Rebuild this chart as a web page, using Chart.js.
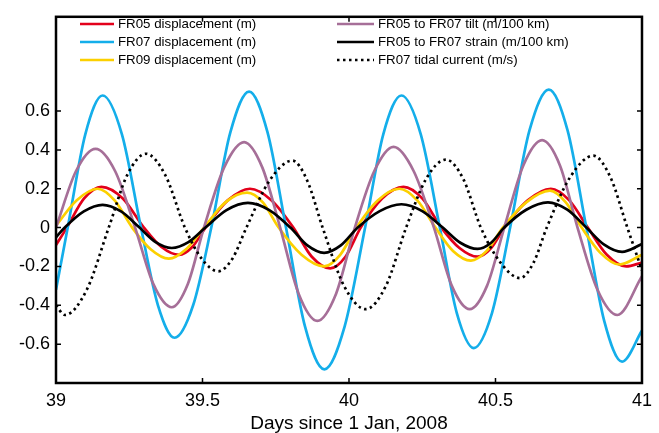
<!DOCTYPE html>
<html>
<head>
<meta charset="utf-8">
<title>Tidal displacement, tilt and strain</title>
<script src="https://cdn.jsdelivr.net/npm/chart.js@4/dist/chart.umd.min.js"></script>
<style>
    html, body { margin: 0; padding: 0; background: #fff; }
    #wrap { width: 659px; height: 433px; }
</style>
</head>
<body>
<div id="wrap"><canvas id="chart" width="659" height="433"></canvas></div>
<script>
// Values (days since 1 Jan 2008): crests, troughs, zero crossings and mid-slope points
const fr05Days = [39.0, 39.037, 39.096, 39.155, 39.228, 39.30, 39.36, 39.42, 39.465, 39.51, 39.586, 39.662, 39.736, 39.81, 39.873, 39.936, 39.988, 40.04, 40.113, 40.186, 40.25, 40.315, 40.377, 40.439, 40.485, 40.53, 40.61, 40.689, 40.752, 40.815, 40.88, 40.946, 41.0];
const fr05Disp = [-0.09, 0, 0.15, 0.21, 0.15, 0, -0.10, -0.14, -0.10, 0, 0.14, 0.20, 0.14, 0, -0.15, -0.21, -0.15, 0, 0.15, 0.21, 0.15, 0, -0.105, -0.15, -0.105, 0, 0.14, 0.20, 0.14, 0, -0.14, -0.20, -0.18];

const fr07Days = [39.0, 39.04, 39.10, 39.159, 39.225, 39.29, 39.348, 39.405, 39.468, 39.53, 39.595, 39.659, 39.722, 39.785, 39.85, 39.916, 39.985, 40.055, 40.117, 40.179, 40.245, 40.31, 40.368, 40.426, 40.488, 40.55, 40.616, 40.682, 40.746, 40.81, 40.871, 40.932, 41.0];
const fr07Disp = [-0.32, 0, 0.48, 0.68, 0.48, 0, -0.40, -0.567, -0.40, 0, 0.49, 0.70, 0.49, 0, -0.51, -0.73, -0.51, 0, 0.48, 0.68, 0.48, 0, -0.44, -0.62, -0.44, 0, 0.50, 0.71, 0.50, 0, -0.48, -0.69, -0.53];

const fr09Days = [39.0, 39.07, 39.142, 39.20, 39.26, 39.322, 39.385, 39.445, 39.505, 39.578, 39.652, 39.706, 39.76, 39.838, 39.915, 39.97, 40.025, 40.098, 40.172, 40.233, 40.295, 40.355, 40.416, 40.47, 40.525, 40.605, 40.686, 40.74, 40.794, 40.858, 40.922, 41.0];
const fr09Disp = [0.01, 0.14, 0.20, 0.14, 0, -0.11, -0.16, -0.11, 0, 0.13, 0.18, 0.13, 0, -0.14, -0.20, -0.14, 0, 0.14, 0.20, 0.14, 0, -0.12, -0.17, -0.12, 0, 0.13, 0.19, 0.13, 0, -0.13, -0.19, -0.14];

const tiltDays = [39.0, 39.068, 39.135, 39.202, 39.27, 39.332, 39.395, 39.45, 39.505, 39.574, 39.642, 39.704, 39.765, 39.828, 39.892, 39.956, 40.02, 40.086, 40.152, 40.221, 40.29, 40.351, 40.412, 40.471, 40.53, 40.595, 40.659, 40.72, 40.78, 40.848, 40.916, 41.0];
const tiltVals = [0.0, 0.29, 0.405, 0.29, 0, -0.29, -0.41, -0.29, 0, 0.31, 0.44, 0.31, 0, -0.34, -0.48, -0.34, 0, 0.29, 0.415, 0.29, 0, -0.30, -0.42, -0.30, 0, 0.32, 0.45, 0.32, 0, -0.32, -0.45, -0.25];

const strainDays = [39.0, 39.03, 39.095, 39.159, 39.222, 39.285, 39.34, 39.395, 39.452, 39.51, 39.582, 39.655, 39.728, 39.80, 39.858, 39.915, 39.972, 40.03, 40.105, 40.179, 40.25, 40.32, 40.38, 40.439, 40.485, 40.53, 40.605, 40.679, 40.745, 40.81, 40.871, 40.932, 41.0];
const strainVals = [-0.05, 0, 0.083, 0.117, 0.083, 0, -0.075, -0.105, -0.075, 0, 0.09, 0.127, 0.09, 0, -0.092, -0.13, -0.092, 0, 0.085, 0.12, 0.085, 0, -0.078, -0.11, -0.078, 0, 0.092, 0.13, 0.092, 0, -0.088, -0.125, -0.085];

const currentDays = [39.0, 39.03, 39.105, 39.18, 39.243, 39.307, 39.373, 39.44, 39.497, 39.554, 39.602, 39.65, 39.728, 39.807, 39.858, 39.91, 39.983, 40.057, 40.126, 40.195, 40.263, 40.331, 40.39, 40.45, 40.517, 40.584, 40.63, 40.675, 40.755, 40.834, 40.892, 40.95, 41.0];
const currentVals = [-0.40, -0.45, -0.32, 0, 0.27, 0.38, 0.27, 0, -0.16, -0.225, -0.16, 0, 0.24, 0.345, 0.24, 0, -0.30, -0.42, -0.30, 0, 0.25, 0.35, 0.25, 0, -0.18, -0.26, -0.18, 0, 0.26, 0.37, 0.26, 0, -0.22];

// Axis ticks
const xTicks = [39, 39.5, 40, 40.5, 41];
const yTicks = [-0.6, -0.4, -0.2, 0, 0.2, 0.4, 0.6];

const FONT = '"Liberation Sans", Arial, Helvetica, sans-serif';

function toPoints(xs, ys) {
    return xs.map((x, i) => ({ x: x, y: ys[i] }));
}

function makeSeries(label, xs, ys, color, dash, order) {
    return {
        label: label,
        data: toPoints(xs, ys),
        borderColor: color,
        backgroundColor: color,
        borderWidth: 2.7,
        borderDash: dash || [],
        pointRadius: 0,
        fill: false,
        cubicInterpolationMode: 'monotone',
        order: order
    };
}

// MATLAB-style box with inward ticks on all four sides
const boxPlugin = {
    id: 'box',
    afterDatasetsDraw(chart) {
        const ctx = chart.ctx;
        const a = chart.chartArea;
        const xs = chart.scales.x;
        const ys = chart.scales.y;
        const len = 5;
        ctx.save();
        ctx.strokeStyle = '#000';
        ctx.lineWidth = 1.5;
        ctx.beginPath();
        xTicks.forEach(t => {
            const px = xs.getPixelForValue(t);
            ctx.moveTo(px, a.bottom); ctx.lineTo(px, a.bottom - len);
            ctx.moveTo(px, a.top); ctx.lineTo(px, a.top + len);
        });
        yTicks.forEach(t => {
            const py = ys.getPixelForValue(t);
            ctx.moveTo(a.left, py); ctx.lineTo(a.left + len, py);
            ctx.moveTo(a.right, py); ctx.lineTo(a.right - len, py);
        });
        ctx.stroke();
        ctx.lineWidth = 2.5;
        ctx.strokeRect(a.left, a.top, a.right - a.left, a.bottom - a.top);
        ctx.restore();
    }
};

// Two-column legend inside the top of the plot, no frame
const legendPlugin = {
    id: 'insideLegend',
    afterDraw(chart) {
        const ctx = chart.ctx;
        const cols = [{ lineX: 80, textX: 118 }, { lineX: 337, textX: 378 }];
        const rowY = [24, 42, 60];
        ctx.save();
        ctx.font = '13.3px ' + FONT;
        ctx.textBaseline = 'middle';
        ctx.fillStyle = '#000';
        chart.data.datasets.forEach((ds, i) => {
            const col = cols[Math.floor(i / 3)];
            const y = rowY[i % 3];
            ctx.strokeStyle = ds.borderColor;
            ctx.lineWidth = ds.borderWidth;
            ctx.setLineDash(ds.borderDash);
            ctx.beginPath();
            ctx.moveTo(col.lineX, y);
            ctx.lineTo(col.textX - 4, y);
            ctx.stroke();
            ctx.setLineDash([]);
            ctx.fillText(ds.label, col.textX, y + 0.5);
        });
        ctx.restore();
    }
};

function initializeChart() {
    const ctx = document.getElementById('chart').getContext('2d');

    new Chart(ctx, {
        type: 'line',
        data: {
            datasets: [
                makeSeries('FR05 displacement (m)', fr05Days, fr05Disp, '#e3001b', null, 5),
                makeSeries('FR07 displacement (m)', fr07Days, fr07Disp, '#14aeea', null, 4),
                makeSeries('FR09 displacement (m)', fr09Days, fr09Disp, '#fcd000', null, 3),
                makeSeries('FR05 to FR07 tilt (m/100 km)', tiltDays, tiltVals, '#a66f98', null, 2),
                makeSeries('FR05 to FR07 strain (m/100 km)', strainDays, strainVals, '#000000', null, 1),
                makeSeries('FR07 tidal current (m/s)', currentDays, currentVals, '#000000', [2.5, 3.5], 0)
            ]
        },
        options: {
            responsive: false,
            animation: false,
            layout: { padding: { top: 13, right: 9, left: 0, bottom: 0 } },
            plugins: {
                legend: { display: false },
                tooltip: { enabled: false }
            },
            scales: {
                x: {
                    type: 'linear',
                    min: 39,
                    max: 41,
                    afterBuildTicks: scale => { scale.ticks = xTicks.map(v => ({ value: v })); },
                    afterFit: scale => { scale.height = 50; },
                    ticks: {
                        color: '#000',
                        font: { family: FONT, size: 18 },
                        padding: 7,
                        maxRotation: 0,
                        callback: v => String(v)
                    },
                    grid: { display: false, drawTicks: false },
                    border: { display: false },
                    title: {
                        display: true,
                        text: 'Days since 1 Jan, 2008',
                        color: '#000',
                        font: { family: FONT, size: 19, lineHeight: 1 },
                        padding: { top: 0, bottom: 0 }
                    }
                },
                y: {
                    min: -0.8,
                    max: 1.085,
                    afterBuildTicks: scale => { scale.ticks = yTicks.map(v => ({ value: v })); },
                    afterFit: scale => { scale.width = 56; },
                    ticks: {
                        color: '#000',
                        font: { family: FONT, size: 18 },
                        padding: 6,
                        callback: v => (v === 0 ? '0' : v.toFixed(1))
                    },
                    grid: { display: false, drawTicks: false },
                    border: { display: false }
                }
            }
        },
        plugins: [boxPlugin, legendPlugin]
    });
}

document.addEventListener('DOMContentLoaded', initializeChart);
</script>
</body>
</html>
